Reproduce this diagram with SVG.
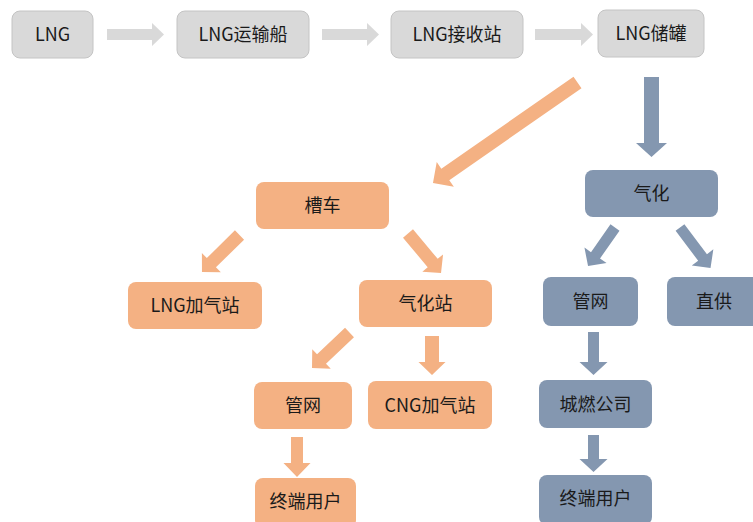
<svg xmlns="http://www.w3.org/2000/svg" width="753" height="522" viewBox="0 0 753 522">
<style>
text{font-family:"Microsoft YaHei","Noto Sans CJK SC","Noto Sans",sans-serif;font-size:18px;fill:#1a1a1a;text-anchor:middle}
.g{fill:#d9d9d9;stroke:#c4c4c4;stroke-width:1}
.o{fill:#f4b183}
.b{fill:#8497b0}
.ga{fill:#d9d9d9}
.oa{fill:#f4b183}
.ba{fill:#8497b0}
</style>
<rect width="753" height="522" fill="#fff"/>
<g id="connectors">
<path class="ga" transform="translate(107,34.5)" d="M0,-5.5H45V-11.5L57,0L45,11.5V5.5H0Z"/>
<path class="ga" transform="translate(322,34.5)" d="M0,-5.5H45V-11.5L57,0L45,11.5V5.5H0Z"/>
<path class="ga" transform="translate(535,34.5)" d="M0,-5.5H46V-11.5L58,0L46,11.5V5.5H0Z"/>
<path class="ba" transform="translate(651.5,77) rotate(90)" d="M0,-7.5H66V-15.5L80,0L66,15.5V7.5H0Z"/>
<path class="oa" transform="translate(577.5,82.5) rotate(145.2)" d="M0,-7H161V-15L176,0L161,15V7H0Z"/>
<path class="oa" transform="translate(239.5,235) rotate(135.4)" d="M0,-6.5H39.5V-13.5L52.7,0L39.5,13.5V6.5H0Z"/>
<path class="oa" transform="translate(408,233.5) rotate(50.1)" d="M0,-6.5H38.5V-13.5L51.5,0L38.5,13.5V6.5H0Z"/>
<path class="oa" transform="translate(349.5,332.5) rotate(136.6)" d="M0,-6.5H38.5V-13.5L51.6,0L38.5,13.5V6.5H0Z"/>
<path class="oa" transform="translate(432,336) rotate(90)" d="M0,-7H26V-13.5L39,0L26,13.5V7H0Z"/>
<path class="oa" transform="translate(297,437) rotate(90)" d="M0,-6H26V-13.5L40,0L26,13.5V6H0Z"/>
<path class="ba" transform="translate(615,227.5) rotate(125)" d="M0,-5.5H34V-13.5L47,0L34,13.5V5.5H0Z"/>
<path class="ba" transform="translate(680,227.5) rotate(53)" d="M0,-5.5H37.5V-13.5L50.7,0L37.5,13.5V5.5H0Z"/>
<path class="ba" transform="translate(593.5,332) rotate(90)" d="M0,-5.5H30V-14L43,0L30,14V5.5H0Z"/>
<path class="ba" transform="translate(593.5,435) rotate(90)" d="M0,-5.5H24V-14L37,0L24,14V5.5H0Z"/>
</g>
<g id="n-lng"><rect class="g" x="12" y="11" width="81" height="47" rx="8"/><text x="52.5" y="41">LNG</text></g>
<g id="n-ship"><rect class="g" x="177" y="11" width="132" height="47" rx="8"/><text x="243" y="41">LNG运输船</text></g>
<g id="n-terminal"><rect class="g" x="391" y="11" width="132" height="47" rx="8"/><text x="457" y="41">LNG接收站</text></g>
<g id="n-tank"><rect class="g" x="598" y="10" width="106" height="47" rx="8"/><text x="651" y="40">LNG储罐</text></g>
<g id="n-truck"><rect class="o" x="256" y="182" width="133" height="47" rx="8"/><text x="322.5" y="212">槽车</text></g>
<g id="n-lngstation"><rect class="o" x="128" y="282" width="134" height="47" rx="8"/><text x="195" y="312">LNG加气站</text></g>
<g id="n-gasstation"><rect class="o" x="359" y="280" width="133" height="47" rx="8"/><text x="425.5" y="310">气化站</text></g>
<g id="n-pipe-o"><rect class="o" x="254" y="382" width="98" height="47" rx="8"/><text x="303" y="412">管网</text></g>
<g id="n-cng"><rect class="o" x="368" y="381" width="124" height="48" rx="8"/><text x="430" y="411.5">CNG加气站</text></g>
<g id="n-user-o"><rect class="o" x="255" y="478" width="101" height="50" rx="8"/><text x="305.5" y="507.5">终端用户</text></g>
<g id="n-gasify"><rect class="b" x="585" y="170" width="133" height="47" rx="8"/><text x="651.5" y="200">气化</text></g>
<g id="n-pipe-b"><rect class="b" x="543" y="277" width="95" height="49" rx="8"/><text x="590.5" y="308">管网</text></g>
<g id="n-direct"><rect class="b" x="667" y="277" width="95" height="49" rx="8"/><text x="714" y="308">直供</text></g>
<g id="n-city"><rect class="b" x="539" y="380" width="113" height="48" rx="8"/><text x="595.5" y="410.5">城燃公司</text></g>
<g id="n-user-b"><rect class="b" x="539" y="475" width="113" height="50" rx="8"/><text x="595.5" y="504.5">终端用户</text></g>
</svg>
